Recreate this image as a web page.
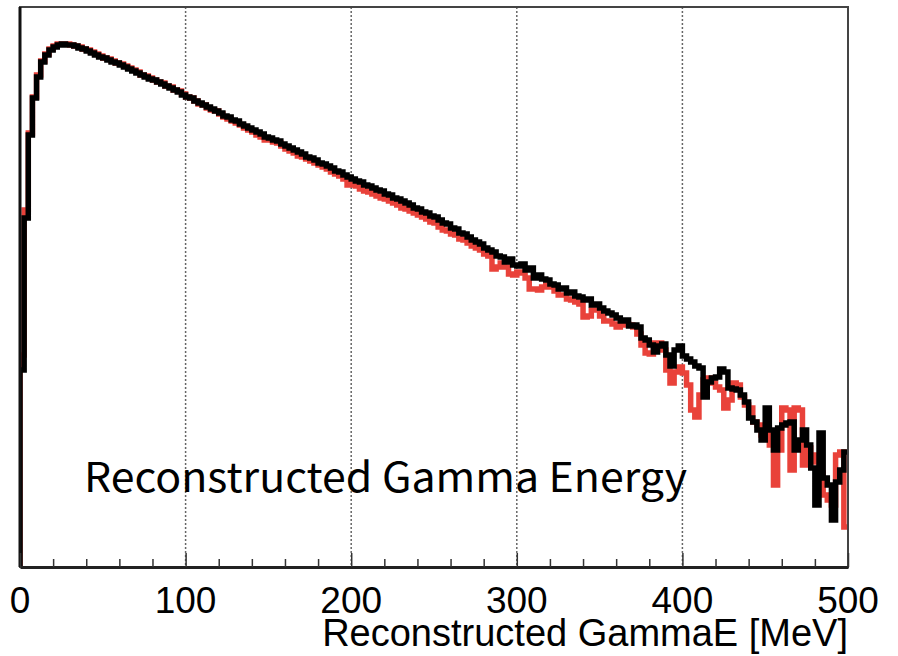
<!DOCTYPE html>
<html>
<head>
<meta charset="utf-8">
<script src="https://cdn.jsdelivr.net/npm/d3@7"></script>
<style>
	body { margin: 0; background: #fff; }
	svg { display: block; }
</style>
</head>
<body>
<div id="chart"></div>
<script>
// 200 bins of 2.5 MeV, 0 - 500 MeV, arbitrary units
const binWidth = 2.5;
const xTicks = [0, 100, 200, 300, 400, 500];

// reference (red) histogram
const redCounts = [
	212, 357, 434, 470, 492, 506, 513, 518, 521, 523,
	523, 523, 522, 521, 520, 518, 517, 515, 513, 511,
	509, 508, 506, 504, 503, 501, 499, 497, 495, 492,
	491, 489, 487, 485, 484, 481, 480, 477, 476, 473,
	470, 469, 466, 463, 462, 459, 457, 456, 453, 450,
	448, 446, 444, 442, 439, 437, 435, 432, 430, 427,
	427, 425, 424, 421, 418, 416, 414, 411, 410, 408,
	406, 404, 402, 400, 398, 395, 393, 391, 388, 382,
	383, 381, 378, 376, 375, 373, 371, 369, 368, 366,
	364, 362, 359, 358, 356, 354, 352, 350, 348, 345,
	344, 340, 337, 336, 333, 332, 328, 327, 324, 321,
	319, 317, 313, 311, 298, 300, 304, 300, 293, 292,
	295, 294, 289, 278, 278, 277, 280, 282, 280, 276,
	272, 272, 268, 267, 265, 263, 250, 251, 257, 257,
	251, 246, 246, 243, 240, 242, 243, 242, 240, 233,
	222, 214, 213, 224, 224, 217, 197, 184, 195, 200,
	194, 182, 157, 150, 172, 187, 189, 184, 180, 177,
	159, 167, 184, 182, 170, 162, 159, 145, 142, 132,
	139, 122, 82, 117, 159, 157, 97, 159, 157, 102,
	119, 112, 105, 94, 72, 67, 62, 112, 115, 40
];

// data (black) histogram
const blackCounts = [
	197, 349, 432, 469, 490, 505, 512, 517, 520, 522,
	523, 522, 522, 521, 519, 518, 516, 514, 512, 510,
	509, 507, 505, 504, 502, 500, 498, 496, 494, 492,
	490, 488, 487, 485, 483, 481, 479, 477, 475, 472,
	470, 469, 466, 464, 462, 460, 458, 456, 454, 451,
	450, 447, 446, 443, 441, 439, 437, 435, 433, 430,
	429, 427, 426, 423, 421, 419, 417, 415, 413, 410,
	409, 407, 404, 403, 401, 399, 396, 395, 392, 390,
	388, 386, 385, 382, 381, 379, 377, 376, 373, 372,
	369, 368, 366, 364, 362, 359, 358, 355, 354, 351,
	350, 347, 344, 343, 339, 338, 334, 333, 330, 327,
	325, 323, 319, 317, 315, 311, 310, 305, 308, 302,
	301, 303, 297, 299, 289, 292, 288, 287, 283, 282,
	278, 279, 274, 275, 271, 270, 267, 268, 262, 263,
	259, 256, 254, 252, 249, 246, 247, 241, 242, 240,
	229, 227, 222, 215, 221, 223, 212, 201, 217, 221,
	211, 208, 205, 201, 199, 170, 185, 189, 190, 198,
	195, 179, 178, 177, 172, 165, 149, 145, 137, 127,
	159, 137, 117, 139, 142, 144, 145, 117, 127, 137,
	122, 99, 62, 134, 89, 82, 47, 85, 97, 115
];

const width = 898;
const height = 656;
const margin = { left: 20, top: 7, right: 50, bottom: 89 };

const svg = d3
	.select('#chart')
	.append('svg')
	.attr('width', width)
	.attr('height', height);

const x = d3
	.scaleLinear()
	.domain([0, 500])
	.range([margin.left, width - margin.right]);

const y = d3
	.scaleLinear()
	.domain([0, 560])
	.range([height - margin.bottom, margin.top]);

svg.append('clipPath')
	.attr('id', 'plotClip')
	.append('rect')
	.attr('x', x(0))
	.attr('y', y(560))
	.attr('width', x(500) - x(0))
	.attr('height', y(0) - y(560));

// dotted grid lines
svg.append('g')
	.selectAll('line')
	.data(xTicks.filter((d) => d > 0 && d < 500))
	.enter()
	.append('line')
	.attr('x1', (d) => x(d))
	.attr('x2', (d) => x(d))
	.attr('y1', y(560))
	.attr('y2', y(0))
	.style('stroke', '#666')
	.style('stroke-width', 1.5)
	.style('stroke-dasharray', '2,2');

// turn counts into step points: start on the floor, end at the last bin
const toSteps = (counts) => {
	const pts = [[0, 0]];
	counts.forEach((c, i) => pts.push([i * binWidth, c]));
	pts.push([counts.length * binWidth, counts[counts.length - 1]]);
	return pts;
};

const line = d3
	.line()
	.x((d) => x(d[0]))
	.y((d) => y(d[1]))
	.curve(d3.curveStepAfter);

const hists = svg.append('g').attr('clip-path', 'url(#plotClip)');

hists.append('path')
	.datum(toSteps(redCounts))
	.attr('d', line)
	.style('fill', 'none')
	.style('stroke', '#e9423a')
	.style('stroke-width', 5.5);

hists.append('path')
	.datum(toSteps(blackCounts))
	.attr('d', line)
	.style('fill', 'none')
	.style('stroke', '#000')
	.style('stroke-width', 5.5);

// frame
svg.append('rect')
	.attr('x', x(0))
	.attr('y', y(560))
	.attr('width', x(500) - x(0))
	.attr('height', y(0) - y(560))
	.style('fill', 'none')
	.style('stroke', '#444')
	.style('stroke-width', 2);

svg.append('line')
	.attr('x1', x(0))
	.attr('x2', x(0))
	.attr('y1', y(560))
	.attr('y2', y(0))
	.style('stroke', '#111')
	.style('stroke-width', 3);

// x axis, ticks pointing inwards
const xAxis = d3
	.axisBottom(x)
	.tickValues(d3.range(0, 501, 20))
	.tickSize(0)
	.tickFormat('');

const axisG = svg.append('g')
	.attr('transform', 'translate(0,' + y(0) + ')')
	.call(xAxis);

axisG.select('.domain')
	.style('stroke', '#222')
	.style('stroke-width', 3);

axisG.selectAll('.tick line')
	.attr('y2', (d) => (d % 100 === 0 ? -14 : -8))
	.style('stroke', '#333')
	.style('stroke-width', 1.5);

svg.append('g')
	.selectAll('text')
	.data(xTicks)
	.enter()
	.append('text')
	.attr('x', (d) => x(d))
	.attr('y', 613)
	.attr('text-anchor', 'middle')
	.style('font-family', 'Liberation Sans, Arial, sans-serif')
	.style('font-size', '37px')
	.style('fill', '#000')
	.text((d) => d);

svg.append('text')
	.attr('x', x(500))
	.attr('y', 646)
	.attr('text-anchor', 'end')
	.style('font-family', 'Liberation Sans, Arial, sans-serif')
	.style('font-size', '38px')
	.style('fill', '#000')
	.text('Reconstructed GammaE [MeV]');

svg.append('text')
	.attr('x', 84)
	.attr('y', 492)
	.attr('textLength', 603)
	.attr('lengthAdjust', 'spacingAndGlyphs')
	.style('font-family', '"Noto Sans CJK JP", "Noto Sans", sans-serif')
	.style('font-size', '41px')
	.style('fill', '#000')
	.text('Reconstructed Gamma Energy');
</script>
</body>
</html>
